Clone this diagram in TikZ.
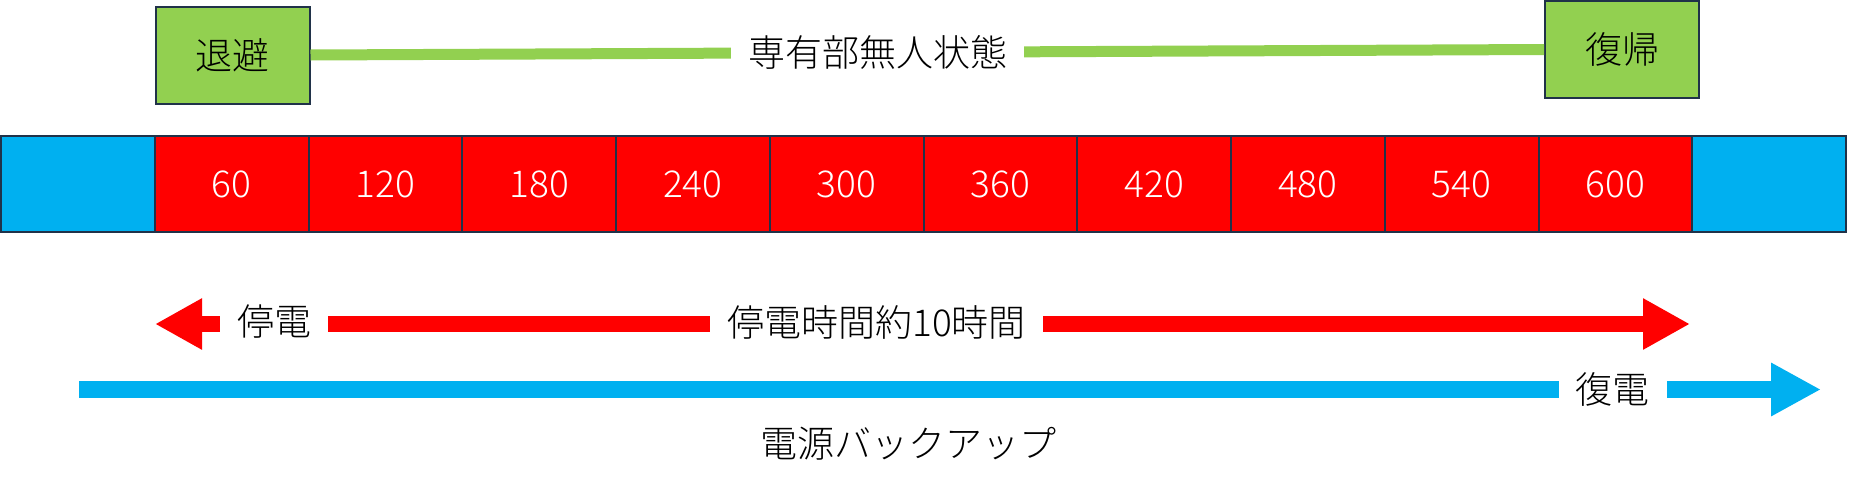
\documentclass[tikz,border=0pt]{standalone}
\usepackage{fontspec}
\usetikzlibrary{arrows.meta}
\newfontfamily\jpfont{Noto Sans CJK JP}[UprightFont={* Light}]
\newcommand\jptext{\jpfont\fontsize{37}{44}\selectfont}
\definecolor{barblue}{HTML}{00B0F0}
\definecolor{barred}{HTML}{FF0000}
\definecolor{boxgreen}{HTML}{92D050}
\definecolor{edge}{HTML}{203249}
\def\cellw{153.75}

\begin{document}
\begin{tikzpicture}[x=1pt,y=-1pt,
    every node/.style={font=\jptext,inner sep=0pt},
    cell/.style={draw=edge,line width=2pt,minimum width=\cellw pt,minimum height=96pt,text=white},
    stagebox/.style={draw=edge,line width=2pt,fill=boxgreen,minimum width=154pt,minimum height=97pt},
    gap/.style={fill=white,inner xsep=17pt,inner ysep=2pt},
    redarrow/.style={barred,line width=16pt,{Triangle[length=47pt,width=48pt]}-{Triangle[length=47pt,width=48pt]}},
    bluearrow/.style={barblue,line width=17pt,-{Triangle[length=50pt,width=50pt]}}]
  \useasboundingbox (0,0) rectangle (1867,493);
  % time bar
  \node[cell,fill=barblue] (c0) at ({1+0.5*\cellw},184) {};
  \foreach \v [count=\i] in {60,120,...,600}
    \node[cell,fill=barred] (c\i) at ({1+(\i+0.5)*\cellw},184) {\v};
  \node[cell,fill=barblue] (c11) at ({1+11.5*\cellw},184) {};
  % vacant period
  \node[stagebox] (leave) at (232.5,55) {退避};
  \node[stagebox] (back) at (1622,49.5) {復帰};
  \draw[boxgreen,line width=11pt] (leave.east) -- (back.west)
    node[gap,pos=0.46,text=black] (vacant) {専有部無人状態};
  % outage
  \coordinate (offL) at (155,324);
  \coordinate (offR) at (1690,324);
  \draw[redarrow] (offL) -- (offR);
  \node[gap] (outage) at (274,322) {停電};
  \node[gap] (span) at (876.5,322) {停電時間約10時間};
  % backup power
  \coordinate (bkL) at (79,389.5);
  \coordinate (bkR) at (1821,389.5);
  \draw[bluearrow] (bkL) -- (bkR);
  \node[gap] (restore) at (1612.5,389) {復電};
  \node (backup) at (908,444) {電源バックアップ};
\end{tikzpicture}
\end{document}
